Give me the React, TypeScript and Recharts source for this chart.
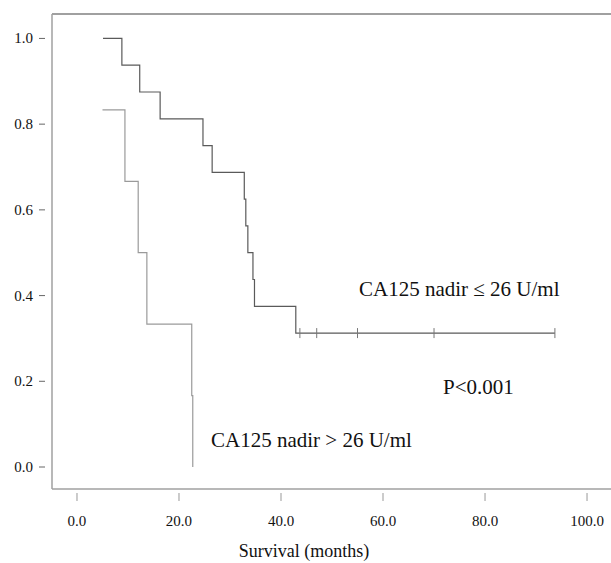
import { ComposedChart, Line, Scatter, XAxis, YAxis } from "recharts";

// Kaplan-Meier estimates
const lowNadirTimes = [5.1, 8.8, 12.3, 16.3, 24.7, 26.5, 32.8, 33.1, 33.5, 34.5, 34.8, 42.9, 93.7];
const lowNadirSurvival = [1.0, 0.9375, 0.875, 0.8125, 0.75, 0.6875, 0.625, 0.5625, 0.5, 0.4375, 0.375, 0.3125, 0.3125];
const lowNadirCensored = [43.7, 47.0, 55.0, 70.0, 93.7];

const highNadirTimes = [5.0, 9.4, 12.0, 13.7, 22.5, 22.7];
const highNadirSurvival = [0.8333, 0.6667, 0.5, 0.3333, 0.1667, 0.0];

const xTicks = [0, 20, 40, 60, 80, 100];
const yTicks = [0, 0.2, 0.4, 0.6, 0.8, 1.0];

const lowData = lowNadirTimes.map((t, i) => ({ t, s: lowNadirSurvival[i] }));
const highData = highNadirTimes.map((t, i) => ({ t, s: highNadirSurvival[i] }));
const censorData = lowNadirCensored.map((t) => ({ t, s: 0.3125 }));

const W = 611;
const H = 563;
const TOP = 14;
const BOTTOM = 489;
const LEFT = 52;
const X_DOMAIN = [-4.9, 104.7];
const Y_DOMAIN = [-0.0513, 1.057];

const serif = "'Liberation Serif', 'Times New Roman', serif";
const axisColor = "#a0a0a0";

const XTick = (props: any) => {
  const { x, payload } = props;
  return (
    <g>
      <line x1={x} x2={x} y1={BOTTOM + 4} y2={BOTTOM + 12} stroke="#999" />
      <text x={x} y={526} textAnchor="middle" fontFamily={serif} fontSize={15} fill="#111">
        {payload.value.toFixed(1)}
      </text>
    </g>
  );
};

const YTick = (props: any) => {
  const { y, payload } = props;
  return (
    <g>
      <line x1={39} x2={45} y1={y} y2={y} stroke="#666" />
      <text x={33} y={y + 5} textAnchor="end" fontFamily={serif} fontSize={15} fill="#111">
        {payload.value.toFixed(1)}
      </text>
    </g>
  );
};

const CensorMark = (props: any) => {
  const { cx, cy } = props;
  return <line x1={cx} x2={cx} y1={cy - 5} y2={cy + 5} stroke="#777" strokeWidth={1} />;
};

export default function App() {
  return (
    <div style={{ position: "absolute", left: 0, top: 0, width: W, height: H, background: "#fff" }}>
      <div style={{ position: "absolute", left: LEFT, top: TOP - 1, width: W - LEFT, height: 0, borderTop: `2px solid ${axisColor}` }} />
      <ComposedChart width={W} height={H} margin={{ top: TOP, right: 0, bottom: 0, left: 0 }}>
        <XAxis
          type="number"
          dataKey="t"
          domain={X_DOMAIN}
          ticks={xTicks}
          allowDataOverflow
          height={H - BOTTOM}
          axisLine={{ stroke: axisColor, strokeWidth: 1.5 }}
          tickLine={false}
          tick={<XTick />}
          interval={0}
        />
        <YAxis
          type="number"
          dataKey="s"
          domain={Y_DOMAIN}
          ticks={yTicks}
          allowDataOverflow
          width={LEFT}
          axisLine={{ stroke: axisColor, strokeWidth: 1.5 }}
          tickLine={false}
          tick={<YTick />}
          interval={0}
        />
        <Line
          data={lowData}
          dataKey="s"
          type="stepAfter"
          stroke="#5a5a5a"
          strokeWidth={1.2}
          dot={false}
          isAnimationActive={false}
        />
        <Line
          data={highData}
          dataKey="s"
          type="stepAfter"
          stroke="#9a9a9a"
          strokeWidth={1.2}
          dot={false}
          isAnimationActive={false}
        />
        <Scatter data={censorData} dataKey="s" shape={<CensorMark />} isAnimationActive={false} />
      </ComposedChart>
      <svg width={W} height={H} style={{ position: "absolute", left: 0, top: 0, pointerEvents: "none" }}>
        <text x={359} y={296} fontFamily={serif} fontSize={21} fill="#111">
          CA125 nadir ≤ 26 U/ml
        </text>
        <text x={443} y={394} fontFamily={serif} fontSize={21} fill="#111">
          P&lt;0.001
        </text>
        <text x={211} y={447} fontFamily={serif} fontSize={21} fill="#111">
          CA125 nadir &gt; 26 U/ml
        </text>
        <text x={304} y={557} textAnchor="middle" fontFamily={serif} fontSize={18} fill="#111">
          Survival (months)
        </text>
      </svg>
    </div>
  );
}
